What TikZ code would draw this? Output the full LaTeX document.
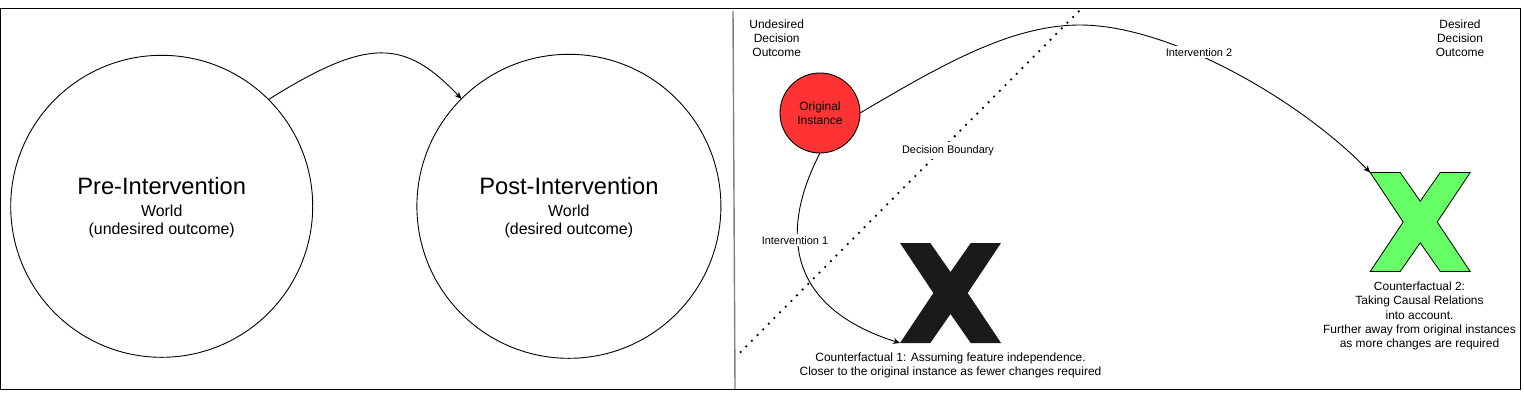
\documentclass[tikz,border=0pt]{standalone}
\usepackage{fontspec}
\setmainfont{Liberation Sans}
\usetikzlibrary{arrows.meta}
\definecolor{xred}{HTML}{FF3333}
\definecolor{xgreen}{HTML}{66FF66}
\definecolor{xdark}{HTML}{1A1A1A}
\definecolor{divgray}{HTML}{7F7F7F}
\newcommand\xshapepath{(0,0) -- (30,0) -- (50,29) -- (70,0) -- (100,0) -- (67,50) -- (100,100) -- (70,100) -- (50,71) -- (30,100) -- (0,100) -- (33,50) -- cycle}
\begin{document}
\begin{tikzpicture}[x=1bp,y=-1bp,
  every node/.style={inner sep=0pt, outer sep=0pt},
  world/.style={circle, draw, line width=0.9bp, minimum size=302bp},
  lbl/.style={font=\fontsize{12}{14}\selectfont, align=center},
  elbl/.style={font=\fontsize{11}{13}\selectfont, fill=white, inner sep=2bp},
  conn/.style={line width=0.9bp, -{Stealth[length=7bp,width=6bp]}},
  xmark/.style={minimum width=101bp, minimum height=100bp},
  boundary/.style={line width=1.8bp, dash pattern=on 1.8bp off 6.2bp},
  bigtitle/.style={font=\fontsize{23.8}{27}\selectfont, anchor=base},
  subtitle/.style={font=\fontsize{16}{18.3}\selectfont, align=center, anchor=north},
]
\useasboundingbox (0,0) rectangle (1524,405);
% frame and divider
\draw[line width=1.2bp] (0.6,8.6) rectangle (1520.5,389.5);
\draw[divgray, line width=1.4bp] (733,11) -- (735,389);

% left panel
\node[world] (pre) at (161.7,206.3) {};
\node[world, minimum size=304bp] (post) at (568.9,206.3) {};
\node[bigtitle] (pretitle) at (161.7,194.3) {Pre-Intervention};
\node[subtitle] (presub) at (161.7,205.2) {World\\(undesired outcome)};
\node[bigtitle] (posttitle) at (568.9,194.3) {Post-Intervention};
\node[subtitle] (postsub) at (568.9,205.2) {World\\(desired outcome)};
\draw[conn] (pre.45) .. controls (367,38) and (404,38) .. (post.135);

% right panel
\node[lbl, anchor=north] (undes) at (776.7,19.6) {Undesired\\Decision\\Outcome};
\node[lbl, anchor=north] (des) at (1460,19.6) {Desired\\Decision\\Outcome};

\coordinate (db1) at (740,352.7);
\coordinate (db2) at (1079.3,10.7);
\draw[boundary] (db1) -- (db2);
\node[elbl, anchor=base, inner sep=3bp] (dblabel) at (948,153.3) {Decision Boundary};

\node[circle, draw, fill=xred, line width=0.9bp, minimum size=80bp, lbl] (orig) at (820,113) {Original\\Instance};

\node[xmark] (cx1) at (950.5,293) {};
\begin{scope}[shift={(cx1.north west)}, xscale=1.01]
  \fill[xdark] \xshapepath;
\end{scope}
\node[xmark] (cx2) at (1420.7,222.5) {};
\begin{scope}[shift={(cx2.north west)}, yscale=0.99]
  \filldraw[fill=xgreen, draw=black, line width=0.8bp] \xshapepath;
\end{scope}

\node[lbl, anchor=north] (cf1) at (950.5,353) {Counterfactual 1: Assuming feature independence.\\Closer to the original instance as fewer changes required};
\node[font=\fontsize{12}{14.25}\selectfont, align=center, anchor=north] (cf2) at (1419.5,282) {Counterfactual 2:\\Taking Causal Relations\\into account.\\Further away from original instances\\as more changes are required};

\draw[conn] (orig.south) .. controls (775,240) and (795,310) .. (cx1.south west);
\node[elbl, anchor=base] (i1) at (795,244.3) {Intervention 1};

\draw[conn] (orig.east) .. controls (940,66) and (1010,25) .. (1080,25) .. controls (1170,25) and (1300,100) .. (cx2.north west);
\node[elbl, anchor=base] (i2) at (1199,56) {Intervention 2};
\end{tikzpicture}
\end{document}
